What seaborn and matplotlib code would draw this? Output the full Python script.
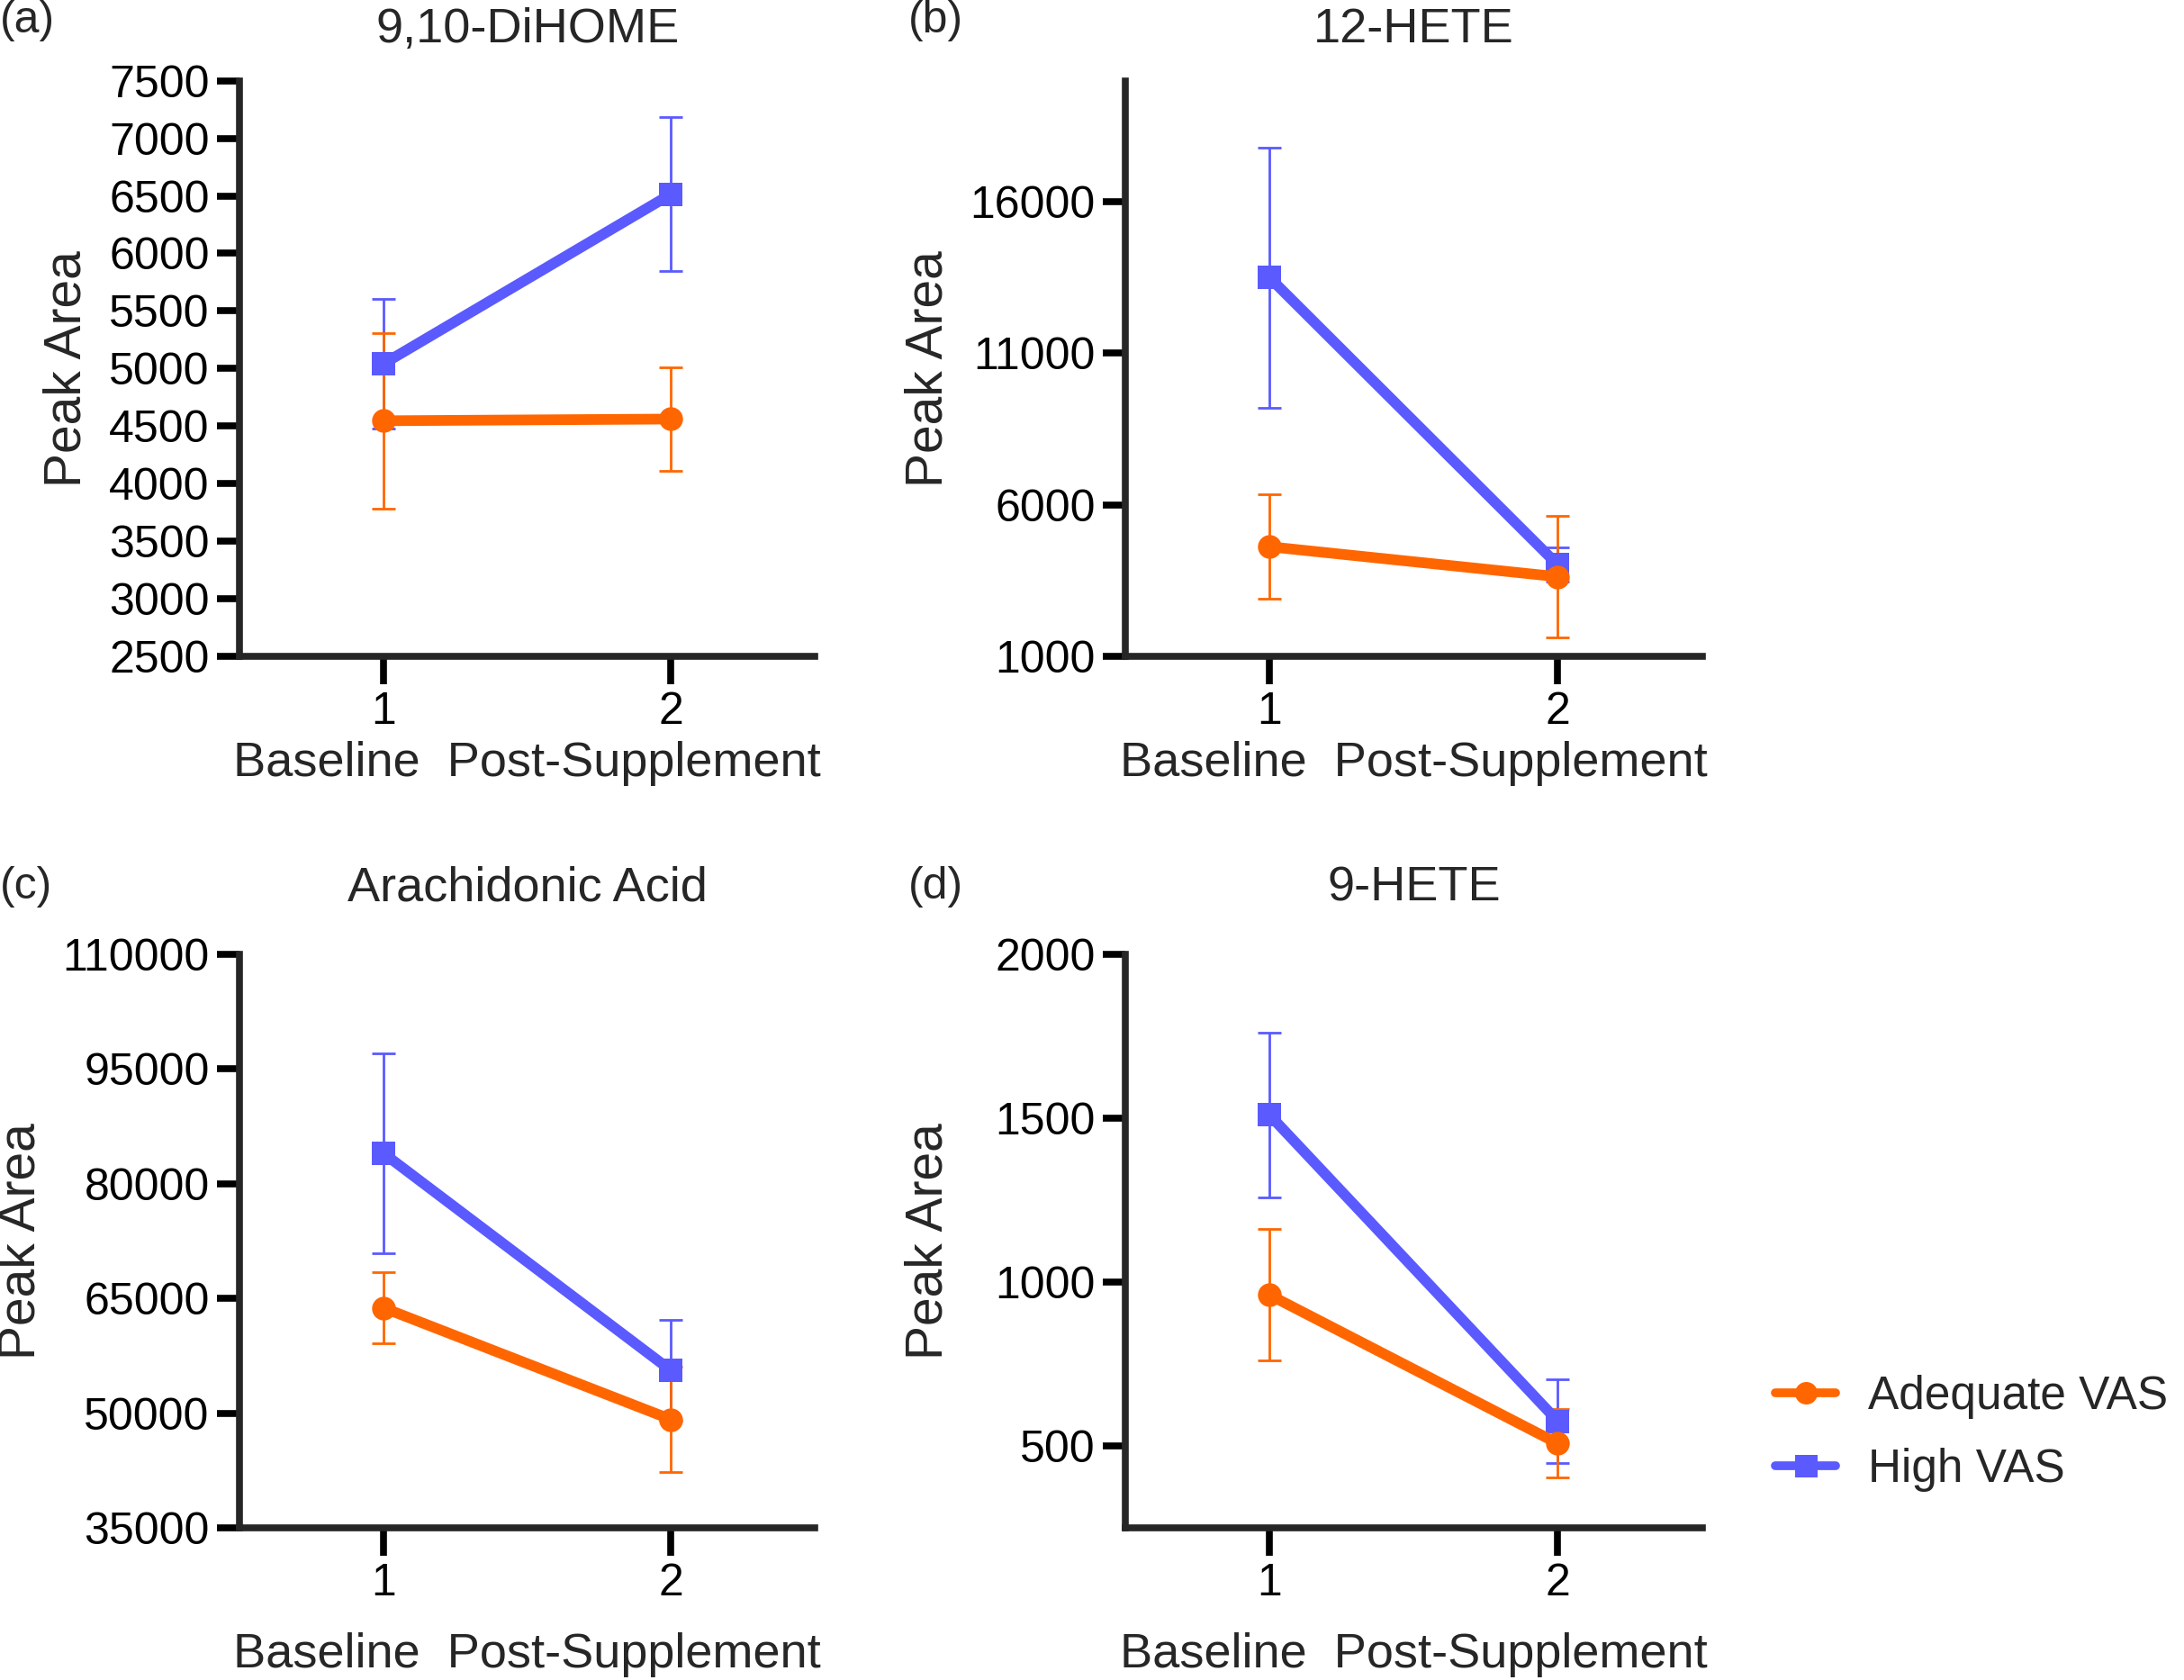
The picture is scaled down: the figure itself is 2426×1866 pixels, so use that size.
import seaborn as sns
import matplotlib
matplotlib.use('Agg')
from matplotlib import pyplot as plt
from matplotlib.lines import Line2D

# values (mean and error bar half-length)
groups = ['Adequate VAS', 'High VAS']
timepoints = [1, 2]
colors = {'Adequate VAS': '#FF6600', 'High VAS': '#5A5AFF'}
markers = {'Adequate VAS': 'o', 'High VAS': 's'}

dihome_adequate = [4545, 4560]
dihome_adequate_err = [765, 452]
dihome_high = [5040, 6515]
dihome_high_err = [565, 667]

hete12_adequate = [4610, 3620]
hete12_adequate_err = [1720, 2020]
hete12_high = [13500, 4010]
hete12_high_err = [4290, 565]

aa_adequate = [63800, 49200]
aa_adequate_err = [4600, 6900]
aa_high = [84000, 55600]
aa_high_err = [13100, 6600]

hete9_adequate = [961, 508]
hete9_adequate_err = [200, 104]
hete9_high = [1510, 576]
hete9_high_err = [251, 127]

panels = [
    ('(a)', '9,10-DiHOME', dihome_adequate, dihome_adequate_err, dihome_high, dihome_high_err,
     (2500, 7500), list(range(2500, 7501, 500))),
    ('(b)', '12-HETE', hete12_adequate, hete12_adequate_err, hete12_high, hete12_high_err,
     (1000, 20000), [1000, 6000, 11000, 16000]),
    ('(c)', 'Arachidonic Acid', aa_adequate, aa_adequate_err, aa_high, aa_high_err,
     (35000, 110000), list(range(35000, 110001, 15000))),
    ('(d)', '9-HETE', hete9_adequate, hete9_adequate_err, hete9_high, hete9_high_err,
     (250, 2000), [500, 1000, 1500, 2000]),
]

sns.set_style('ticks')
plt.rcParams['font.family'] = ['Liberation Sans', 'DejaVu Sans']

fig = plt.figure(figsize=(24.26, 18.66), dpi=100)

# axes boxes in figure fractions
boxes = [(0.1097, 0.6095, 0.2634, 0.3424),
         (0.5153, 0.6095, 0.2640, 0.3424),
         (0.1097, 0.0904, 0.2634, 0.3416),
         (0.5153, 0.0904, 0.2640, 0.3416)]
letter_pos = [(0.0, 0.9877), (0.416, 0.9877), (0.0, 0.472), (0.416, 0.472)]
ylabel_x = [-0.300, -0.341, -0.380, -0.341]
xlabel_y = [-0.186, -0.186, -0.221, -0.221]
title_pad = [31, 31, 43, 43]

for i, (letter, title, ad, ad_err, hi, hi_err, ylim, yticks) in enumerate(panels):
    ax = fig.add_axes(boxes[i])
    series = {'Adequate VAS': (ad, ad_err), 'High VAS': (hi, hi_err)}
    # High drawn first so Adequate sits on top
    for g in ['High VAS', 'Adequate VAS']:
        vals, errs = series[g]
        ax.errorbar(timepoints, vals, yerr=errs, fmt='none', ecolor=colors[g],
                    elinewidth=2, capsize=9.5, capthick=2, zorder=2)
        sns.lineplot(x=timepoints, y=vals, color=colors[g], marker=markers[g],
                     markersize=19, markeredgewidth=0, linewidth=8.5, ax=ax,
                     zorder=3)
    ax.set_xlim(0.5, 2.5)
    ax.set_xticks(timepoints)
    ax.set_ylim(*ylim)
    ax.set_yticks(yticks)
    ax.set_yticklabels([str(t) for t in yticks])
    sns.despine(ax=ax)
    for s in ['left', 'bottom']:
        ax.spines[s].set_linewidth(5.5)
    ax.tick_params(axis='both', labelsize=36, width=5.5, colors='black')
    ax.tick_params(axis='y', length=18, pad=6)
    ax.tick_params(axis='x', length=22, pad=6)
    ax.set_title(title, fontsize=39, pad=title_pad[i])
    ax.set_ylabel('Peak Area', fontsize=41, va='center')
    ax.yaxis.set_label_coords(ylabel_x[i], 0.5)
    ax.set_xlabel('Baseline  Post-Supplement', fontsize=39, va='center')
    ax.xaxis.set_label_coords(0.5, xlabel_y[i])
    fig.text(letter_pos[i][0], letter_pos[i][1], letter, fontsize=36,
             ha='left', va='center')

handles = [Line2D([0], [0], color=colors[g], marker=markers[g], markersize=18,
                  markeredgewidth=0, linewidth=7) for g in groups]
fig.legend(handles, groups, loc='center left', bbox_to_anchor=(0.813, 0.147),
           frameon=False, fontsize=37, handlelength=1.3, handletextpad=0.7,
           labelspacing=0.62, borderpad=0, borderaxespad=0)

plt.savefig('out.png', dpi=100)
